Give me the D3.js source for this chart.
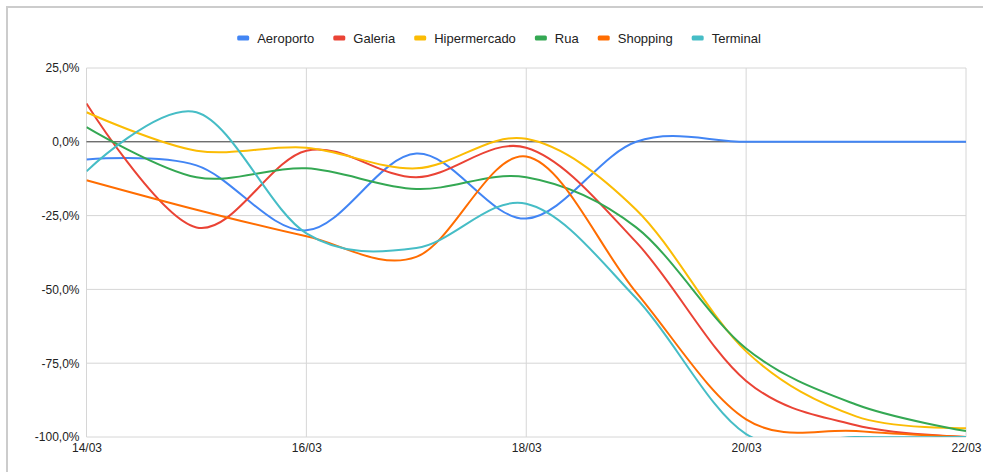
<!DOCTYPE html>
<html>
<head>
<meta charset="utf-8">
<script src="https://cdn.jsdelivr.net/npm/d3@7"></script>
<style>
  body { margin: 0; background: #fff; }
  svg { display: block; font-family: "Liberation Sans", Arial, sans-serif; }
</style>
</head>
<body>
<svg width="983" height="472"></svg>
<script>
// days on the x axis, one point per day
var days = ["14/03", "15/03", "16/03", "17/03", "18/03", "19/03", "20/03", "21/03", "22/03"]
var xTicks = ["14/03", "16/03", "18/03", "20/03", "22/03"]
var yTicks = [25, 0, -25, -50, -75, -100]

var seriesNames = ["Aeroporto", "Galeria", "Hipermercado", "Rua", "Shopping", "Terminal"]
var colors = ["#4285F4", "#EA4335", "#FBBC04", "#34A853", "#FF6D01", "#46BDC6"]

// values in percent
var aeroporto    = [-6,  -8, -30,  -4, -26,   0,   0,    0,    0]
var galeria      = [13, -29,  -3, -12,  -2, -34, -81,  -96, -100]
var hipermercado = [10,  -3,  -2,  -9,   1, -23, -71,  -93,  -97]
var rua          = [ 5, -12,  -9, -16, -12, -29, -70,  -89,  -98]
var shopping     = [-13, -23, -32, -39, -5, -51, -94,  -98, -100]
var terminal     = [-10, 10, -31, -36, -21, -53, -99, -100, -100]

var allValues = [aeroporto, galeria, hipermercado, rua, shopping, terminal]

var svg = d3.select("svg")
// note: "top" is taken by window.top, so plot* names
var plotL = 86.5, plotR = 966, plotT = 68, plotB = 437

// outer frame like the sheet chart border
svg.append("path")
    .attr("d", "M7,472 V7 H983")
    .attr("fill", "none")
    .attr("stroke", "#ccc")
    .attr("stroke-width", 2)

var x = d3.scalePoint().domain(days).range([plotL, plotR])
var y = d3.scaleLinear().domain([-100, 25]).range([plotB, plotT])

var fmt = function(v) { return v.toFixed(1).replace(".", ",") + "%" }

// horizontal grid
svg.append("g").selectAll("line")
    .data(yTicks.filter(function(d) { return d !== 0 }))
    .enter().append("line")
    .attr("x1", plotL).attr("x2", plotR)
    .attr("y1", function(d) { return y(d) }).attr("y2", function(d) { return y(d) })
    .attr("stroke", "#d6d6d6").attr("stroke-width", 1)

// vertical grid
svg.append("g").selectAll("line")
    .data(xTicks)
    .enter().append("line")
    .attr("x1", function(d) { return x(d) }).attr("x2", function(d) { return x(d) })
    .attr("y1", plotT).attr("y2", plotB)
    .attr("stroke", "#d6d6d6").attr("stroke-width", 1)

// y axis labels
var yAxis = d3.axisLeft(y).tickValues(yTicks).tickFormat(fmt).tickSize(0).tickPadding(7)
var gy = svg.append("g").attr("transform", "translate(" + plotL + ",0)").call(yAxis)
gy.select(".domain").remove()
gy.selectAll("text").attr("font-size", 12).attr("fill", "#222")
    .attr("font-family", "Liberation Sans, Arial, sans-serif")

// x axis labels
var xAxis = d3.axisBottom(x).tickValues(xTicks).tickSize(0).tickPadding(6)
var gx = svg.append("g").attr("transform", "translate(0," + plotB + ")").call(xAxis)
gx.select(".domain").remove()
gx.selectAll("text").attr("font-size", 12).attr("fill", "#222")
    .attr("font-family", "Liberation Sans, Arial, sans-serif")

// zero baseline
svg.append("line")
    .attr("x1", plotL).attr("x2", plotR)
    .attr("y1", y(0)).attr("y2", y(0))
    .attr("stroke", "#333").attr("stroke-width", 1)

svg.append("clipPath").attr("id", "plot")
    .append("rect")
    .attr("x", plotL).attr("y", plotT)
    .attr("width", plotR - plotL).attr("height", plotB - plotT)

var line = d3.line()
    .x(function(d, i) { return x(days[i]) })
    .y(function(d) { return y(d) })
    .curve(d3.curveCardinal.tension(0))

svg.append("g").attr("clip-path", "url(#plot)")
    .selectAll("path")
    .data(allValues)
    .enter().append("path")
    .attr("d", line)
    .attr("fill", "none")
    .attr("stroke", function(d, i) { return colors[i] })
    .attr("stroke-width", 2)

// legend, centred on top
var legend = svg.append("g")
var pos = 0, gap = 19
var items = []
seriesNames.forEach(function(name, i) {
    var g = legend.append("g")
    g.append("rect")
        .attr("x", 0).attr("y", -2.5)
        .attr("width", 12).attr("height", 5).attr("rx", 1.5)
        .attr("fill", colors[i])
    var t = g.append("text")
        .attr("x", 20).attr("y", 0).attr("dy", "0.35em")
        .attr("font-size", 13).attr("fill", "#222")
        .text(name)
    items.push({ g: g, start: pos })
    pos += 20 + t.node().getComputedTextLength() + gap
})
var total = pos - gap
var startX = 499 - total / 2
items.forEach(function(it) {
    it.g.attr("transform", "translate(" + (startX + it.start) + ",38)")
})
</script>
</body>
</html>
